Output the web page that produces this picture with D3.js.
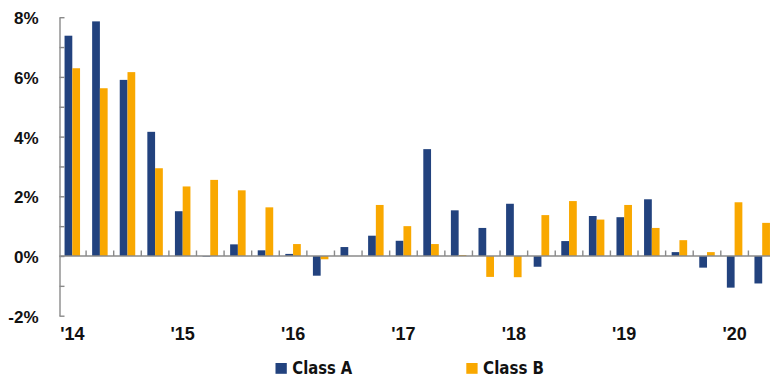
<!DOCTYPE html>
<html>
<head>
<meta charset="utf-8">
<script src="https://cdn.jsdelivr.net/npm/d3@7"></script>
<style>
  html, body { margin: 0; padding: 0; background: #fff; }
  svg { display: block; }
  .lbl { font-family: "Liberation Sans", Arial, sans-serif; font-weight: bold; fill: #111; }
  .leg { font-family: "Liberation Sans Narrow", "DejaVu Sans Condensed", "Liberation Sans", sans-serif; font-weight: bold; fill: #111; }
</style>
</head>
<body>
<svg id="chart" width="770" height="376"></svg>
<script>
'use strict';

// quarterly data, Q1 2014 .. Q2 2020
const years = ['14', '15', '16', '17', '18', '19', '20'];
const quarters = [];
years.forEach(y => [1, 2, 3, 4].forEach(q => quarters.push('Q' + q + " '" + y)));
quarters.length = 26;

const classA = [7.38, 7.86, 5.90, 4.16, 1.50, -0.02, 0.39, 0.19,
                0.07, -0.66, 0.30, 0.68, 0.51, 3.58, 1.53, 0.94,
                1.75, -0.36, 0.50, 1.34, 1.30, 1.90, 0.13, -0.39,
                -1.06, -0.92];
const classB = [6.29, 5.62, 6.16, 2.94, 2.33, 2.55, 2.20, 1.63,
                0.40, -0.11, 0, 1.71, 1.00, 0.40, 0.03, -0.70,
                -0.71, 1.37, 1.84, 1.22, 1.71, 0.94, 0.53, 0.13,
                1.80, 1.11];
const seriesNames = ['Class A', 'Class B'];
const colors = ['#22427e', '#f9a800'];
const yTicks = d3.range(-2, 9);

const $svg = d3.select('#chart');

const x0 = d3.scaleBand()
	.domain(quarters)
	.range([58.5, 776])
;
const x1 = d3.scaleBand()
	.domain(seriesNames)
	.range([0, x0.bandwidth()])
	.paddingOuter(0.78)
;
const y = d3.scaleLinear()
	.domain([-2, 8])
	.range([315.7, 17.2])
;

const rows = quarters.map((q, i) => ({q: q, vals: [classA[i], classB[i]]}));

// bars
$svg.append('g')
	.selectAll('g')
	.data(rows)
	.join('g')
	.attr('transform', d => 'translate(' + x0(d.q) + ',0)')
	.selectAll('rect')
	.data(d => d.vals.map((v, k) => ({name: seriesNames[k], v: v, k: k})))
	.join('rect')
	.attr('x', d => x1(d.name))
	.attr('width', x1.bandwidth())
	.attr('y', d => y(Math.max(0, d.v)))
	.attr('height', d => Math.abs(y(d.v) - y(0)))
	.attr('fill', d => colors[d.k])
;

// y axis, ticks pointing into the plot
const yAxis = d3.axisLeft(y)
	.tickValues(yTicks)
	.tickSizeInner(-5)
	.tickSizeOuter(0)
	.tickPadding(21)
	.tickFormat(d => d % 2 === 0 ? d + '%' : '')
;
const $yAxis = $svg.append('g')
	.attr('transform', 'translate(' + 59.5 + ',0)')
	.call(yAxis)
;
$yAxis.selectAll('path, line').attr('stroke', '#8a8a8a').attr('stroke-width', 1.4);
$yAxis.selectAll('text')
	.attr('class', 'lbl')
	.attr('font-size', 17)
	.attr('dy', '0.38em')
;

// x axis at zero
const $xAxis = $svg.append('g');
$xAxis.append('line')
	.attr('x1', 59.5).attr('x2', 770)
	.attr('y1', y(0)).attr('y2', y(0))
	.attr('stroke', '#8a8a8a').attr('stroke-width', 1.4)
;
$xAxis.selectAll('line.tick')
	.data(quarters.slice(1))
	.join('line')
	.attr('class', 'tick')
	.attr('x1', d => x0(d)).attr('x2', d => x0(d))
	.attr('y1', y(0) - 5.5).attr('y2', y(0))
	.attr('stroke', '#8a8a8a').attr('stroke-width', 1.4)
;
$xAxis.selectAll('text')
	.data(quarters.filter(q => q.startsWith('Q1')))
	.join('text')
	.attr('class', 'lbl')
	.attr('font-size', 18)
	.attr('text-anchor', 'middle')
	.attr('x', d => x0(d) + x0.bandwidth() / 2)
	.attr('y', 340)
	.text(d => d.slice(3))
;

// legend
const legendX = [275.5, 466.3];
const $legend = $svg.append('g')
	.selectAll('g')
	.data(seriesNames)
	.join('g')
	.attr('transform', (d, i) => 'translate(' + legendX[i] + ',363)')
;
$legend.append('rect')
	.attr('width', 11.3)
	.attr('height', 10.8)
	.attr('fill', (d, i) => colors[i])
;
$legend.append('text')
	.attr('class', 'leg')
	.attr('font-size', 18)
	.attr('x', 16.8)
	.attr('y', 10.5)
	.attr('textLength', (d, i) => i ? 61 : 60)
	.attr('lengthAdjust', 'spacingAndGlyphs')
	.text(d => d)
;
</script>
</body>
</html>
